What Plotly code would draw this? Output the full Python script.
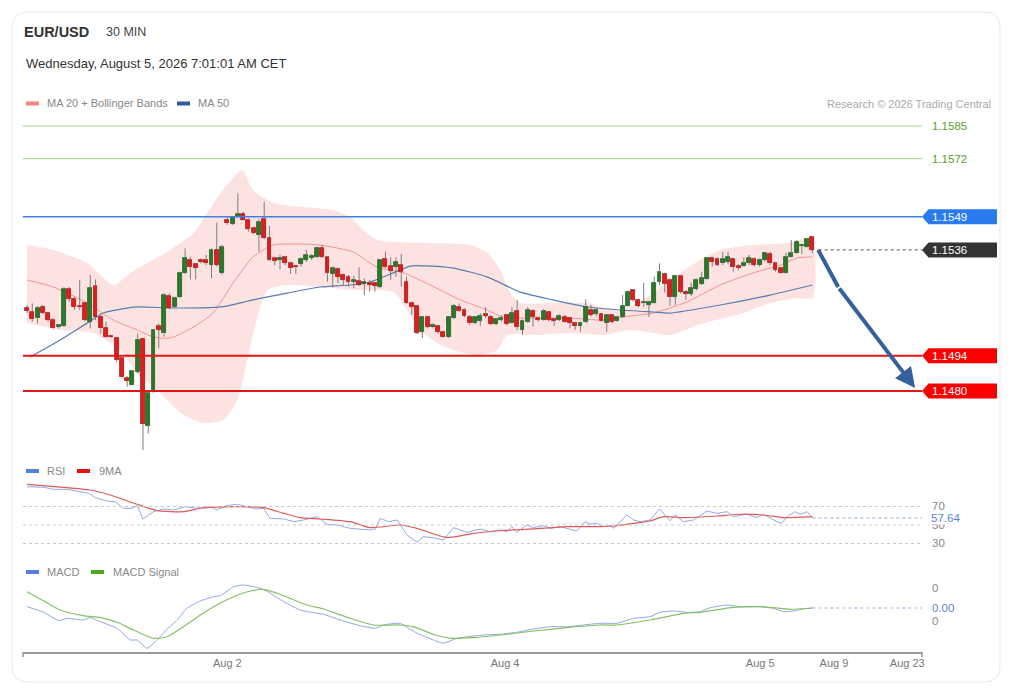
import plotly.graph_objects as go

FONT = "Liberation Sans, Arial, Helvetica, sans-serif"

# ---------------- data ----------------
OPEN = [1.15130, 1.15114, 1.15088, 1.15134, 1.15108, 1.15081, 1.15052, 1.15059, 1.15203, 1.15165,
        1.15137, 1.15150, 1.15075, 1.15216, 1.15095, 1.15051, 1.15019, 1.15009, 1.14929, 1.14853,
        1.14824, 1.14877, 1.15005, 1.14661, 1.14797, 1.15058, 1.15028, 1.15176, 1.15132, 1.15171,
        1.15266, 1.15319, 1.15302, 1.15319, 1.15319, 1.15299, 1.15359, 1.15266, 1.15478, 1.15462,
        1.15491, 1.15501, 1.15478, 1.15445, 1.15418, 1.15480, 1.15405, 1.15326, 1.15319, 1.15329,
        1.15306, 1.15295, 1.15303, 1.15319, 1.15326, 1.15330, 1.15365, 1.15330, 1.15264, 1.15282,
        1.15260, 1.15253, 1.15233, 1.15236, 1.15224, 1.15229, 1.15229, 1.15211, 1.15322, 1.15295,
        1.15290, 1.15299, 1.15233, 1.15150, 1.15137, 1.15035, 1.15092, 1.15052, 1.15057, 1.15035,
        1.15013, 1.15088, 1.15132, 1.15121, 1.15095, 1.15071, 1.15079, 1.15105, 1.15095, 1.15065,
        1.15081, 1.15101, 1.15071, 1.15118, 1.15042, 1.15075, 1.15118, 1.15088, 1.15081, 1.15114,
        1.15084, 1.15081, 1.15095, 1.15088, 1.15068, 1.15057, 1.15075, 1.15121, 1.15105, 1.15105,
        1.15068, 1.15101, 1.15079, 1.15095, 1.15137, 1.15200, 1.15160, 1.15147, 1.15141, 1.15150,
        1.15233, 1.15264, 1.15240, 1.15174, 1.15256, 1.15194, 1.15184, 1.15203, 1.15224, 1.15242,
        1.15326, 1.15322, 1.15306, 1.15312, 1.15322, 1.15295, 1.15295, 1.15306, 1.15322, 1.15299,
        1.15319, 1.15343, 1.15306, 1.15286, 1.15269, 1.15332, 1.15345, 1.15373, 1.15372, 1.15411]
HIGH = [1.15141, 1.15147, 1.15137, 1.15141, 1.15114, 1.15088, 1.15064, 1.15211, 1.15213, 1.15174,
        1.15240, 1.15154, 1.15260, 1.15242, 1.15108, 1.15075, 1.15023, 1.15013, 1.14936, 1.14859,
        1.14883, 1.15028, 1.15005, 1.14797, 1.15046, 1.15068, 1.15187, 1.15187, 1.15174, 1.15273,
        1.15365, 1.15332, 1.15306, 1.15325, 1.15339, 1.15365, 1.15467, 1.15379, 1.15491, 1.15493,
        1.15583, 1.15511, 1.15484, 1.15451, 1.15480, 1.15550, 1.15454, 1.15332, 1.15339, 1.15335,
        1.15312, 1.15299, 1.15330, 1.15359, 1.15343, 1.15372, 1.15379, 1.15335, 1.15293, 1.15290,
        1.15266, 1.15260, 1.15256, 1.15290, 1.15246, 1.15240, 1.15233, 1.15322, 1.15352, 1.15329,
        1.15330, 1.15343, 1.15253, 1.15154, 1.15141, 1.15095, 1.15097, 1.15068, 1.15061, 1.15039,
        1.15097, 1.15145, 1.15147, 1.15128, 1.15101, 1.15097, 1.15108, 1.15132, 1.15101, 1.15088,
        1.15101, 1.15105, 1.15132, 1.15160, 1.15084, 1.15132, 1.15124, 1.15095, 1.15124, 1.15118,
        1.15088, 1.15104, 1.15101, 1.15095, 1.15075, 1.15075, 1.15163, 1.15141, 1.15132, 1.15110,
        1.15105, 1.15105, 1.15097, 1.15180, 1.15198, 1.15203, 1.15163, 1.15229, 1.15158, 1.15253,
        1.15306, 1.15269, 1.15246, 1.15260, 1.15260, 1.15200, 1.15229, 1.15246, 1.15273, 1.15330,
        1.15332, 1.15330, 1.15352, 1.15352, 1.15326, 1.15303, 1.15330, 1.15339, 1.15330, 1.15326,
        1.15352, 1.15352, 1.15312, 1.15293, 1.15348, 1.15398, 1.15398, 1.15378, 1.15405, 1.15414]
LOW = [1.15108, 1.15075, 1.15068, 1.15105, 1.15075, 1.15044, 1.15047, 1.15055, 1.15154, 1.15121,
       1.15121, 1.15075, 1.15048, 1.15081, 1.15028, 1.15013, 1.15010, 1.14916, 1.14850, 1.14817,
       1.14824, 1.14870, 1.14566, 1.14632, 1.14794, 1.14969, 1.15015, 1.15124, 1.15128, 1.15167,
       1.15263, 1.15242, 1.15242, 1.15306, 1.15299, 1.15246, 1.15293, 1.15260, 1.15458, 1.15458,
       1.15484, 1.15475, 1.15431, 1.15422, 1.15352, 1.15401, 1.15316, 1.15299, 1.15282, 1.15299,
       1.15264, 1.15264, 1.15293, 1.15312, 1.15319, 1.15326, 1.15326, 1.15233, 1.15211, 1.15227,
       1.15216, 1.15213, 1.15207, 1.15216, 1.15180, 1.15194, 1.15194, 1.15207, 1.15286, 1.15240,
       1.15253, 1.15213, 1.15145, 1.15101, 1.15026, 1.15009, 1.15048, 1.15048, 1.15028, 1.15013,
       1.15009, 1.15084, 1.15114, 1.15092, 1.15061, 1.15065, 1.15058, 1.15088, 1.15061, 1.15061,
       1.15075, 1.15061, 1.15068, 1.15042, 1.15022, 1.15071, 1.15055, 1.15075, 1.15079, 1.15075,
       1.15058, 1.15077, 1.15071, 1.15048, 1.15042, 1.15035, 1.15071, 1.15095, 1.15097, 1.15075,
       1.15035, 1.15068, 1.15075, 1.15092, 1.15134, 1.15154, 1.15132, 1.15134, 1.15094, 1.15147,
       1.15220, 1.15190, 1.15137, 1.15141, 1.15187, 1.15160, 1.15176, 1.15198, 1.15220, 1.15240,
       1.15293, 1.15295, 1.15299, 1.15303, 1.15273, 1.15279, 1.15293, 1.15299, 1.15293, 1.15293,
       1.15312, 1.15299, 1.15273, 1.15264, 1.15266, 1.15330, 1.15343, 1.15343, 1.15369, 1.15345]
CLOSE = [1.15117, 1.15084, 1.15130, 1.15108, 1.15081, 1.15048, 1.15060, 1.15203, 1.15165, 1.15134,
         1.15132, 1.15081, 1.15207, 1.15092, 1.15048, 1.15015, 1.15013, 1.14923, 1.14854, 1.14840,
         1.14878, 1.15002, 1.14669, 1.14791, 1.15042, 1.15042, 1.15180, 1.15128, 1.15167, 1.15269,
         1.15328, 1.15290, 1.15289, 1.15312, 1.15306, 1.15359, 1.15299, 1.15369, 1.15464, 1.15488,
         1.15501, 1.15478, 1.15441, 1.15427, 1.15468, 1.15405, 1.15319, 1.15316, 1.15328, 1.15308,
         1.15286, 1.15290, 1.15323, 1.15339, 1.15335, 1.15365, 1.15330, 1.15266, 1.15286, 1.15253,
         1.15240, 1.15233, 1.15240, 1.15220, 1.15233, 1.15220, 1.15216, 1.15319, 1.15290, 1.15277,
         1.15312, 1.15273, 1.15147, 1.15134, 1.15029, 1.15092, 1.15055, 1.15061, 1.15035, 1.15015,
         1.15095, 1.15137, 1.15118, 1.15097, 1.15068, 1.15092, 1.15097, 1.15097, 1.15065, 1.15084,
         1.15088, 1.15065, 1.15110, 1.15052, 1.15079, 1.15121, 1.15092, 1.15081, 1.15118, 1.15081,
         1.15079, 1.15099, 1.15075, 1.15068, 1.15057, 1.15071, 1.15132, 1.15101, 1.15121, 1.15079,
         1.15101, 1.15075, 1.15092, 1.15137, 1.15194, 1.15160, 1.15137, 1.15154, 1.15154, 1.15229,
         1.15273, 1.15224, 1.15174, 1.15256, 1.15194, 1.15184, 1.15207, 1.15240, 1.15246, 1.15326,
         1.15312, 1.15299, 1.15322, 1.15330, 1.15290, 1.15286, 1.15308, 1.15326, 1.15299, 1.15319,
         1.15345, 1.15306, 1.15279, 1.15266, 1.15332, 1.15345, 1.15392, 1.15377, 1.15401, 1.15359]
X = list(range(len(CLOSE)))

BB_UP_X = [0, 5.0, 11.4, 16.4, 19.6, 22.8, 27.2, 31.6, 34.2, 37.2, 40.8, 42.9, 46.7, 52.4, 58.1,
           61.3, 63.8, 66.4, 76.5, 84.1, 87.3, 89.8, 91.7, 93.6, 99.3, 106.3, 112.5, 118.8, 122.0,
           128.3, 131.5, 137.8, 144.2, 149]
BB_UP = [1.15378, 1.15359, 1.15307, 1.15220, 1.15268, 1.15307, 1.15359, 1.15426, 1.15505, 1.15596,
         1.15676, 1.15596, 1.15545, 1.15529, 1.15517, 1.15489, 1.15438, 1.15398, 1.15386, 1.15378,
         1.15347, 1.15279, 1.15188, 1.15149, 1.15149, 1.15149, 1.15117, 1.15188, 1.15240, 1.15327,
         1.15359, 1.15378, 1.15386, 1.15406]
BB_LO_X = [0, 6.9, 12.6, 17.7, 20.9, 25.3, 29.1, 33.5, 37.2, 39.9, 41.8, 43.7, 45.6, 49.4, 55.6,
           61.3, 63.8, 69.5, 70.8, 72.7, 74.6, 77.8, 80.9, 85.4, 89.2, 91.1, 96.8, 103.1, 109.3,
           114.4, 118.8, 122.0, 128.3, 134.7, 141.0, 146.1, 149]
BB_LO = [1.15069, 1.15042, 1.15030, 1.14962, 1.14871, 1.14792, 1.14713, 1.14673, 1.14685, 1.14764,
         1.14923, 1.15093, 1.15200, 1.15220, 1.15212, 1.15200, 1.15200, 1.15192, 1.15161, 1.15101,
         1.15042, 1.14990, 1.14962, 1.14943, 1.14962, 1.15022, 1.15022, 1.15030, 1.15022, 1.15042,
         1.15030, 1.15022, 1.15069, 1.15101, 1.15149, 1.15168, 1.15168]
MA20_X = [0, 5.0, 11.4, 16.4, 20.9, 24.0, 27.2, 31.6, 35.3, 39.1, 42.9, 46.7, 52.4, 55.6, 61.9,
          66.4, 71.4, 76.5, 78.4, 82.2, 87.3, 90.4, 96.8, 103.1, 109.3, 114.4, 118.8, 125.2,
          131.5, 137.8, 142.9, 146.1, 149]
MA20 = [1.15240, 1.15212, 1.15149, 1.15081, 1.15042, 1.15014, 1.15010, 1.15054, 1.15109, 1.15228,
        1.15331, 1.15378, 1.15382, 1.15378, 1.15351, 1.15291, 1.15268, 1.15220, 1.15200, 1.15161,
        1.15121, 1.15093, 1.15089, 1.15089, 1.15081, 1.15097, 1.15109, 1.15153, 1.15220, 1.15268,
        1.15299, 1.15327, 1.15331]
MA50_X = [0.6, 6.3, 11.4, 14.5, 20.9, 27.2, 36.7, 42.9, 49.4, 55.6, 61.3, 65.1, 69.5, 72.7, 76.5,
          80.9, 87.3, 93.6, 99.8, 106.3, 112.5, 118.8, 122.0, 128.3, 134.7, 141.0, 149]
MA50 = [1.14935, 1.15002, 1.15069, 1.15109, 1.15133, 1.15129, 1.15133, 1.15161, 1.15188, 1.15212,
        1.15220, 1.15232, 1.15268, 1.15295, 1.15295, 1.15287, 1.15252, 1.15192, 1.15161, 1.15133,
        1.15121, 1.15113, 1.15109, 1.15129, 1.15153, 1.15180, 1.15220]

RSI_X = [0, 3.2, 5.0, 7.6, 10.1, 11.7, 13.0, 15.2, 16.7, 18.3, 19.9, 20.9, 22.0, 24.0, 25.9, 27.8,
         30.0, 32.2, 34.8, 36.0, 37.9, 39.8, 41.7, 43.6, 44.9, 46.1, 48.7, 50.6, 52.5, 55.0, 56.9,
         58.8, 61.3, 63.2, 65.1, 66.1, 67.0, 68.6, 70.2, 72.1, 74.0, 75.2, 77.1, 79.0, 80.9, 83.5,
         86.0, 87.9, 89.8, 91.0, 92.0, 92.9, 94.8, 96.1, 98.0, 99.3, 101.2, 102.4, 104.3, 105.9,
         106.8, 108.1, 109.4, 110.6, 111.3, 113.8, 115.1, 116.3, 118.2, 120.0, 122.0, 123.0, 124.5,
         126.4, 129.0, 130.9, 132.8, 134.0, 136.6, 138.5, 139.7, 142.3, 143.2, 144.2, 145.7, 146.7,
         148.0, 149]
RSI = [91.4, 90.8, 88.6, 88.6, 86.0, 84.3, 79.5, 75.9, 75.2, 68.1, 68.1, 70.9, 56.5, 64.4, 67.3,
       66.2, 69.8, 68.1, 69.8, 66.2, 70.9, 72.4, 69.8, 67.3, 68.1, 57.2, 56.5, 53.6, 55.4, 59.0,
       50.8, 50.0, 46.4, 45.7, 44.6, 45.7, 57.2, 53.6, 55.4, 39.2, 31.3, 37.4, 36.3, 33.8, 47.1,
       42.1, 45.7, 42.8, 44.6, 42.8, 48.2, 42.1, 50.0, 47.1, 49.2, 46.4, 48.2, 46.4, 43.5, 53.6,
       50.8, 51.8, 48.2, 49.2, 46.4, 60.8, 55.4, 53.6, 55.4, 67.3, 54.6, 60.8, 53.6, 55.4, 65.1,
       62.6, 64.4, 59.0, 61.6, 57.9, 61.6, 53.6, 51.8, 59.0, 64.4, 61.6, 64.4, 57.64]
RSI_MA_X = [0, 7.6, 12.0, 15.8, 20.9, 24.7, 29.7, 32.9, 39.2, 44.9, 48.7, 51.8, 55.6, 61.3, 65.1,
            70.8, 74.0, 79.7, 84.7, 89.8, 96.1, 102.4, 108.8, 111.9, 115.1, 118.2, 120.8, 124.5,
            130.9, 135.3, 139.7, 143.5, 149]
RSI_MA = [94.0, 90.3, 87.8, 82.4, 72.4, 65.5, 64.4, 68.1, 69.8, 68.7, 62.6, 57.9, 56.5, 53.6, 47.1,
          50.0, 46.4, 36.3, 41.0, 43.8, 45.7, 48.2, 48.2, 49.2, 51.8, 54.3, 59.0, 57.9, 59.7, 61.6,
          60.8, 57.9, 59.0]

MACD_X = [0, 3.2, 6.0, 7.6, 10.7, 12.0, 13.9, 17.1, 19.6, 20.9, 22.8, 24.7, 26.6, 28.5, 30.3, 32.9,
          35.4, 36.7, 39.2, 41.1, 43.6, 45.5, 48.7, 51.8, 55.0, 56.3, 59.4, 63.2, 66.1, 67.6, 70.8,
          74.0, 77.1, 79.0, 81.6, 86.6, 89.8, 92.9, 96.1, 99.3, 102.4, 105.6, 108.7, 111.9, 115.1,
          118.2, 120.1, 122.6, 125.2, 127.7, 129.6, 132.8, 135.3, 139.1, 141.6, 143.5, 145.4, 147.3,
          149]
MACD = [0.000026, -0.000086, -0.000254, -0.000206, -0.00024, -0.000194, -0.000274, -0.000406,
        -0.00064, -0.00064, -0.000806, -0.00064, -0.00042, -0.00024, -0.000006, 0.00014, 0.000226,
        0.000246, 0.000426, 0.00046, 0.000414, 0.00034, 0.000126, -0.00004, -0.000106, -0.000126,
        -0.00024, -0.000354, -0.000406, -0.00034, -0.000306, -0.000506, -0.00064, -0.000706,
        -0.000606, -0.00054, -0.000526, -0.000486, -0.00042, -0.000374, -0.000374, -0.00034,
        -0.000306, -0.000306, -0.000206, -0.000174, -0.000086, -0.00006, -0.000086, -0.000074,
        0.000006, 0.00006, 0.000026, 0.000026, -0.000006, -0.000074, -0.00006, -0.00002, 0.0]
SIG_X = [0, 3.2, 6.3, 10.7, 13.9, 17.1, 20.2, 24.0, 26.6, 29.7, 32.9, 36.0, 39.2, 42.4, 44.9, 48.7,
         53.1, 56.3, 61.3, 65.7, 70.8, 73.3, 77.1, 80.3, 84.7, 89.8, 96.1, 102.4, 108.7, 111.9,
         118.2, 121.4, 124.5, 127.7, 134.0, 139.1, 141.6, 144.8, 149]
SIG = [0.000326, 0.00014, -0.00004, -0.000154, -0.000194, -0.000286, -0.00044, -0.000606,
       -0.000574, -0.000374, -0.00014, 0.00006, 0.000226, 0.00034, 0.000374, 0.000246, 0.00006,
       -0.00002, -0.000206, -0.00034, -0.00034, -0.000374, -0.000526, -0.000606, -0.000594,
       -0.00054, -0.00046, -0.000394, -0.00034, -0.00034, -0.00024, -0.000174, -0.000106,
       -0.000086, 0.000014, 0.000026, 0.000006, -0.000026, 0.0]
MACD_TICKS = [0.0004, -0.00026]
MACD_TICK_TEXT = ["0", "0"]

TICK_POS = [38.0, 90.7, 139.1, 153.1, 167.0]
TICK_TEXT = ["Aug 2", "Aug 4", "Aug 5", "Aug 9", "Aug 23"]

RESISTANCE = [1.1585, 1.1572]
PIVOT = 1.1549
SUPPORT = [1.1494, 1.1480]
FORECAST_X = [150.1, 153.9, 168.5]
FORECAST_Y = [1.15359, 1.15212, 1.14812]
RSI_LEVELS = [70, 50, 30]

# ---------------- layout geometry ----------------
W, H = 1015, 692
ML, MR = 23, 93
PW = W - ML - MR


def px(x):
    return (x - ML) / PW


def py(y):
    return 1 - y / H


MAIN_DOM = [py(460), py(110)]
RSI_DOM = [py(552), py(478)]
MACD_DOM = [py(652), py(578)]
X_RANGE = [-0.76, 169.8]
MAIN_RANGE = [1.14527, 1.15913]
RSI_RANGE = [20.8, 100.8]
MACD_RANGE = [-0.00088, 0.0006]

C_GREEN = "#2a7a2a"
C_GREEN_LN = "#1f5c1f"
C_RED = "#dd1f1f"
C_RED_LN = "#a81212"
C_WICK = "#7c7c7c"

fig = go.Figure()

# Bollinger band fill + moving averages (base subplot x/y)
fig.add_trace(go.Scatter(
    x=BB_UP_X + BB_LO_X[::-1], y=BB_UP + BB_LO[::-1], mode="lines", fill="toself",
    fillcolor="rgba(250,190,190,0.45)", line=dict(width=0, shape="spline", smoothing=0.6),
    hoverinfo="skip", xaxis="x", yaxis="y"))
fig.add_trace(go.Scatter(x=MA20_X, y=MA20, mode="lines", hoverinfo="skip",
                         line=dict(color="#f29494", width=1, shape="spline", smoothing=0.6)))
fig.add_trace(go.Scatter(x=MA50_X, y=MA50, mode="lines", hoverinfo="skip",
                         line=dict(color="#5a7cb0", width=1.2, shape="spline", smoothing=0.6)))

# candles on an overlaying subplot (x4/y4) so they sit above the band fill
BODY_LO = [min(o, c) for o, c in zip(OPEN, CLOSE)]
BODY_HI = [max(o, c) for o, c in zip(OPEN, CLOSE)]
BODY_H = [abs(c - o) for o, c in zip(OPEN, CLOSE)]
UP = [c >= o for o, c in zip(OPEN, CLOSE)]
wx, wy = [], []
for xi, lo, blo, bhi, hi in zip(X, LOW, BODY_LO, BODY_HI, HIGH):
    wx += [xi, xi, None, xi, xi, None]
    wy += [lo, blo, None, bhi, hi, None]
fig.add_trace(go.Scatter(x=wx, y=wy, mode="lines", hoverinfo="skip", xaxis="x4", yaxis="y4",
                         line=dict(color=C_WICK, width=1)))
fig.add_trace(go.Bar(
    x=X, y=BODY_H, base=BODY_LO, width=0.74, hoverinfo="skip", xaxis="x4", yaxis="y4",
    marker=dict(color=[C_GREEN if u else C_RED for u in UP],
                line=dict(color=[C_GREEN_LN if u else C_RED_LN for u in UP], width=0.8))))

# forecast arrow
ARROW_C = "#34609d"
fig.add_trace(go.Scatter(x=FORECAST_X[:2], y=FORECAST_Y[:2], mode="lines", hoverinfo="skip",
                         xaxis="x4", yaxis="y4", line=dict(color=ARROW_C, width=4)))

# RSI
fig.add_trace(go.Scatter(x=RSI_X, y=RSI, mode="lines", xaxis="x2", yaxis="y2", hoverinfo="skip",
                         line=dict(color="#93a9e6", width=1)))
fig.add_trace(go.Scatter(x=RSI_MA_X, y=RSI_MA, mode="lines", xaxis="x2", yaxis="y2", hoverinfo="skip",
                         line=dict(color="#e05a5a", width=1.2, shape="spline", smoothing=0.6)))
# MACD
fig.add_trace(go.Scatter(x=MACD_X, y=MACD, mode="lines", xaxis="x3", yaxis="y3", hoverinfo="skip",
                         line=dict(color="#8fa6e6", width=1, shape="spline", smoothing=0.4)))
fig.add_trace(go.Scatter(x=SIG_X, y=SIG, mode="lines", xaxis="x3", yaxis="y3", hoverinfo="skip",
                         line=dict(color="#86c064", width=1.2, shape="spline", smoothing=0.6)))

shapes = []
ann = []

# card frame
x0f, x1f, y0f, y1f = px(12), px(1000), py(682), py(12)
rx, ry = 16 / PW, 16 / H
frame = (f"M {x0f + rx} {y1f} L {x1f - rx} {y1f} Q {x1f} {y1f} {x1f} {y1f - ry} "
         f"L {x1f} {y0f + ry} Q {x1f} {y0f} {x1f - rx} {y0f} L {x0f + rx} {y0f} "
         f"Q {x0f} {y0f} {x0f} {y0f + ry} L {x0f} {y1f - ry} Q {x0f} {y1f} {x0f + rx} {y1f} Z")
shapes.append(dict(type="path", xref="paper", yref="paper", path=frame,
                   line=dict(color="#e7eaee", width=1), layer="below"))

# horizontal levels
for lv in RESISTANCE:
    shapes.append(dict(type="line", xref="paper", yref="y", x0=0, x1=1, y0=lv, y1=lv,
                       line=dict(color="#9fce86", width=1)))
shapes.append(dict(type="line", xref="paper", yref="y", x0=0, x1=1, y0=PIVOT, y1=PIVOT,
                   line=dict(color="#3f80e4", width=1.4)))
for lv in SUPPORT:
    shapes.append(dict(type="line", xref="paper", yref="y", x0=0, x1=1, y0=lv, y1=lv,
                       line=dict(color="#e31616", width=2)))
# last price dotted
shapes.append(dict(type="line", xref="x", yref="y", x0=X[-1] + 1.2, x1=X_RANGE[1],
                   y0=CLOSE[-1], y1=CLOSE[-1], line=dict(color="#555", width=1, dash="dot")))

main_h = 7.5 * (MAIN_RANGE[1] - MAIN_RANGE[0]) / 350


def tag(val, bg, text, yref, half):
    a, b, c = px(922), px(928.5), px(997)
    shapes.append(dict(type="path", xref="paper", yref=yref, line=dict(width=0), fillcolor=bg,
                       path=f"M {a} {val} L {b} {val + half} L {c} {val + half} L {c} {val - half} "
                            f"L {b} {val - half} Z"))
    ann.append(dict(xref="paper", yref=yref, x=px(930.5), y=val, text=text, showarrow=False,
                    xanchor="left", yanchor="middle", font=dict(color="white", size=11.5)))


for lv in RESISTANCE:
    ann.append(dict(xref="paper", yref="y", x=px(930.5), y=lv, text=f"{lv:.4f}", showarrow=False,
                    xanchor="left", yanchor="middle", font=dict(color="#5a9e2e", size=11.5)))
tag(PIVOT, "#2a7af0", f"{PIVOT:.4f}", "y", main_h)
tag(CLOSE[-1], "#333333", f"{CLOSE[-1]:.4f}", "y", main_h)
for lv in SUPPORT:
    tag(lv, "#fa0000", f"{lv:.4f}", "y", main_h)

# forecast arrow head
ann.append(dict(xref="x", yref="y", axref="x", ayref="y", x=FORECAST_X[2], y=FORECAST_Y[2],
                ax=FORECAST_X[1], ay=FORECAST_Y[1], text="", showarrow=True, arrowhead=2,
                arrowsize=1, arrowwidth=4, arrowcolor=ARROW_C, standoff=0))

# RSI reference lines and labels
for lv in RSI_LEVELS:
    shapes.append(dict(type="line", xref="paper", yref="y2", x0=0, x1=1, y0=lv, y1=lv,
                       line=dict(color="#c9c9c9", width=1, dash="dot")))
    ann.append(dict(xref="paper", yref="y2", x=px(930.5), y=lv, text=str(lv), showarrow=False,
                    xanchor="left", yanchor="middle", font=dict(color="#888", size=11.5)))
shapes.append(dict(type="line", xref="x2", yref="y2", x0=RSI_X[-1], x1=X_RANGE[1],
                   y0=RSI[-1], y1=RSI[-1], line=dict(color="#8ea4e6", width=1, dash="dot")))
ann.append(dict(xref="paper", yref="y2", x=px(930.5), y=RSI[-1], text=f"{RSI[-1]:.2f}",
                showarrow=False, xanchor="left", yanchor="middle", bgcolor="white", borderpad=0,
                font=dict(color="#5b7fe0", size=11.5)))

# MACD labels
for tv, tt in zip(MACD_TICKS, MACD_TICK_TEXT):
    ann.append(dict(xref="paper", yref="y3", x=px(930.5), y=tv, text=tt, showarrow=False,
                    xanchor="left", yanchor="middle", font=dict(color="#888", size=11.5)))
shapes.append(dict(type="line", xref="x3", yref="y3", x0=MACD_X[-1], x1=X_RANGE[1],
                   y0=MACD[-1], y1=MACD[-1], line=dict(color="#9aaedd", width=1, dash="dot")))
ann.append(dict(xref="paper", yref="y3", x=px(930.5), y=MACD[-1], text=f"{abs(MACD[-1]):.2f}",
                showarrow=False, xanchor="left", yanchor="middle", font=dict(color="#5b7fe0", size=11.5)))

# small end ticks of the time axis
for xe in (px(ML), 1):
    shapes.append(dict(type="line", xref="paper", yref="paper", x0=xe, x1=xe, y0=py(652), y1=py(657),
                       line=dict(color="#9a9a9a", width=1.5)))


# headers and legends
def text(x, y, s, size=11, color="#888", anchor="left", bold=False):
    ann.append(dict(xref="paper", yref="paper", x=px(x), y=py(y), text=f"<b>{s}</b>" if bold else s,
                    showarrow=False, xanchor=anchor, yanchor="middle",
                    font=dict(size=size, color=color)))


def swatch(x, y, color):
    shapes.append(dict(type="rect", xref="paper", yref="paper", x0=px(x), x1=px(x + 13),
                       y0=py(y + 2), y1=py(y - 2), fillcolor=color, line=dict(width=0)))


text(22, 32, "EUR/USD", size=14.5, color="#333", bold=True)
text(104, 32, "30 MIN", size=12.5, color="#444")
text(24, 64, "Wednesday, August 5, 2026 7:01:01 AM CET", size=13, color="#333")
swatch(26, 103.5, "#f48080")
text(45, 103.5, "MA 20 + Bollinger Bands")
swatch(177, 103.5, "#2f5b9a")
text(196, 103.5, "MA 50")
text(993, 104, "Research © 2026 Trading Central", color="#aaa", anchor="right")
swatch(26, 471, "#5b7fe0")
text(45, 471, "RSI")
swatch(77, 471, "#e81010")
text(97, 471, "9MA")
swatch(26, 572, "#5b7fe0")
text(45, 572, "MACD")
swatch(91, 572, "#4caa1e")
text(111, 572, "MACD Signal")

fig.update_layout(
    width=W, height=H, margin=dict(l=ML, r=MR, t=0, b=0, pad=0),
    paper_bgcolor="white", plot_bgcolor="white", showlegend=False, bargap=0,
    font=dict(family=FONT, size=11, color="#888"),
    xaxis=dict(domain=[0, 1], range=X_RANGE, visible=False, anchor="y"),
    yaxis=dict(domain=MAIN_DOM, range=MAIN_RANGE, visible=False, anchor="x"),
    xaxis4=dict(range=X_RANGE, visible=False, overlaying="x", anchor="y4"),
    yaxis4=dict(range=MAIN_RANGE, visible=False, overlaying="y", anchor="x4"),
    xaxis2=dict(domain=[0, 1], range=X_RANGE, visible=False, anchor="y2"),
    yaxis2=dict(domain=RSI_DOM, range=RSI_RANGE, visible=False, anchor="x2"),
    xaxis3=dict(domain=[0, 1], range=X_RANGE, anchor="y3", showline=True, linecolor="#9a9a9a",
                linewidth=1.5, tickmode="array", tickvals=TICK_POS, ticktext=TICK_TEXT,
                ticks="", showgrid=False, zeroline=False, tickfont=dict(size=11, color="#777")),
    yaxis3=dict(domain=MACD_DOM, range=MACD_RANGE, visible=False, anchor="x3"),
    shapes=shapes, annotations=ann,
)

fig.write_html("out.html", config={"displayModeBar": False},
               post_script="document.body.style.margin='0px';")
